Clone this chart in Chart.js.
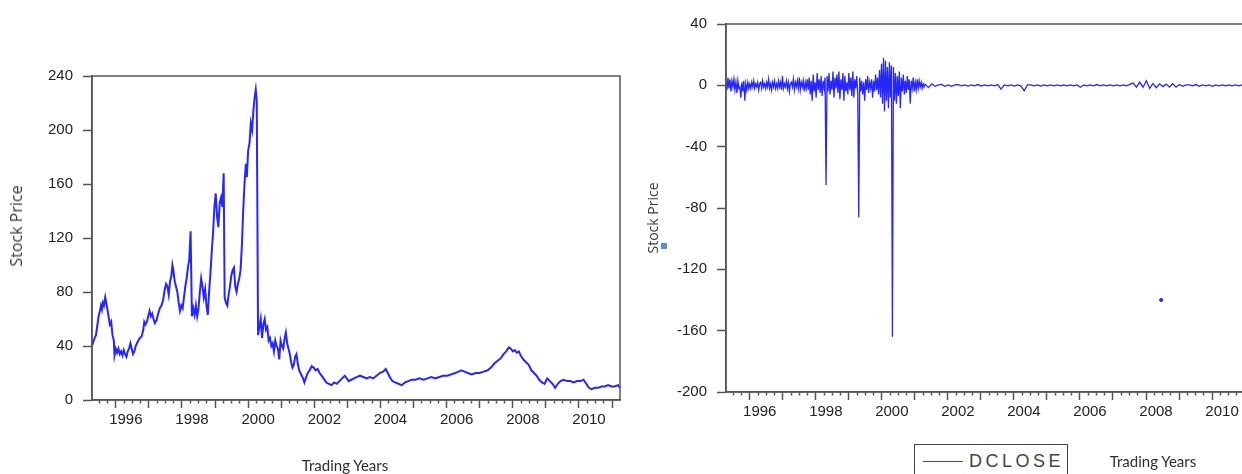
<!DOCTYPE html>
<html>
<head>
<meta charset="utf-8">
<title>Stock price and DCLOSE</title>
<script src="https://cdn.jsdelivr.net/npm/chart.js@4.4.1/dist/chart.umd.min.js"></script>
<style>
  html, body { margin: 0; padding: 0; background: #fff; overflow: hidden; }
  body { width: 1242px; height: 474px; position: relative; }
  canvas { position: absolute; top: 0; }
  #priceChart { left: 0; }
  #dcloseChart { left: 640px; }
  .lbl { position: absolute; white-space: nowrap; color: #3a3a3a; line-height: 1; }
  .rot { transform: translate(-50%, -50%) rotate(-90deg); font-family: "Open Sans", sans-serif; }
  .xt { transform: translate(-50%, -50%); font-family: Lato, "Open Sans", sans-serif; font-size: 15px; color: #2e2e2e; }
  #legendBox { position: absolute; left: 914px; top: 444px; width: 152px; height: 40px; border: 1.5px solid #444; background: #fff; }
  #legendLine { position: absolute; left: 8px; top: 16px; width: 40px; height: 0; border-top: 1.5px solid #3b3bff; }
  #legendText { position: absolute; left: 54px; top: 7px; font-family: "Liberation Sans", Arial, sans-serif; font-size: 18px; letter-spacing: 3.5px; color: #444; line-height: 1; }
  #marker { position: absolute; left: 661px; top: 243px; width: 6px; height: 6px; background: #5a8bd6; }
</style>
</head>
<body>
<canvas id="priceChart" width="640" height="474"></canvas>
<canvas id="dcloseChart" width="640" height="474"></canvas>

<span class="lbl rot" style="left:16px; top:226px; font-size:16px;">Stock Price</span>
<span class="lbl xt" style="left:345px; top:465px;">Trading Years</span>

<span class="lbl rot" style="left:653px; top:218px; font-size:14px;">Stock Price</span>
<div id="marker"></div>
<div id="legendBox"><div id="legendLine"></div><span id="legendText">DCLOSE</span></div>
<span class="lbl xt" style="left:1153px; top:461px;">Trading Years</span>

<script>
// axis range, in years
const xMin = 1995.28;
const xMax = 2011.24;

// left chart: closing price
const priceYears = [
  1995.28, 1995.32, 1995.36, 1995.40, 1995.44, 1995.48, 1995.52, 1995.55, 1995.58, 1995.61,
  1995.64, 1995.68, 1995.71, 1995.74, 1995.78, 1995.82, 1995.86, 1995.90, 1995.94, 1995.96,
  1996.00, 1996.04, 1996.08, 1996.12, 1996.16, 1996.20, 1996.24, 1996.28, 1996.32, 1996.36,
  1996.40, 1996.44, 1996.48, 1996.52, 1996.56, 1996.60, 1996.64, 1996.68, 1996.73, 1996.78,
  1996.83, 1996.86, 1996.90, 1996.94, 1996.98, 1997.02, 1997.06, 1997.10, 1997.14, 1997.18,
  1997.23, 1997.28, 1997.33, 1997.38, 1997.43, 1997.48, 1997.52, 1997.56, 1997.60, 1997.64,
  1997.68, 1997.71, 1997.74, 1997.78, 1997.82, 1997.86, 1997.90, 1997.94, 1997.98, 1998.02,
  1998.06, 1998.10, 1998.14, 1998.18, 1998.22, 1998.26, 1998.30, 1998.34, 1998.38, 1998.42,
  1998.46, 1998.50, 1998.54, 1998.58, 1998.62, 1998.66, 1998.70, 1998.74, 1998.78, 1998.82,
  1998.86, 1998.90, 1998.94, 1998.98, 1999.02, 1999.06, 1999.10, 1999.14, 1999.18, 1999.22,
  1999.26, 1999.29, 1999.33, 1999.37, 1999.41, 1999.45, 1999.49, 1999.53, 1999.57, 1999.61,
  1999.65, 1999.69, 1999.73, 1999.77, 1999.81, 1999.85, 1999.89, 1999.93, 1999.96, 2000.00,
  2000.04, 2000.08, 2000.12, 2000.16, 2000.20, 2000.23, 2000.26, 2000.30, 2000.34, 2000.38,
  2000.42, 2000.46, 2000.50, 2000.54, 2000.58, 2000.62, 2000.66, 2000.70, 2000.74, 2000.78,
  2000.82, 2000.86, 2000.90, 2000.94, 2000.98, 2001.02, 2001.06, 2001.10, 2001.14, 2001.18,
  2001.22, 2001.26, 2001.30, 2001.34, 2001.38, 2001.42, 2001.46, 2001.50, 2001.54, 2001.58,
  2001.62, 2001.66, 2001.70, 2001.74, 2001.80, 2001.86, 2001.92, 2001.98, 2002.04, 2002.10,
  2002.16, 2002.22, 2002.28, 2002.36, 2002.44, 2002.52, 2002.60, 2002.68, 2002.76, 2002.84,
  2002.92, 2002.98, 2003.04, 2003.12, 2003.20, 2003.28, 2003.38, 2003.48, 2003.58, 2003.68,
  2003.78, 2003.88, 2003.98, 2004.08, 2004.16, 2004.22, 2004.28, 2004.36, 2004.44, 2004.54,
  2004.64, 2004.74, 2004.84, 2004.94, 2005.06, 2005.18, 2005.30, 2005.42, 2005.54, 2005.66,
  2005.78, 2005.90, 2006.02, 2006.14, 2006.26, 2006.36, 2006.44, 2006.54, 2006.64, 2006.76,
  2006.88, 2007.00, 2007.12, 2007.24, 2007.34, 2007.44, 2007.54, 2007.64, 2007.72, 2007.80,
  2007.88, 2007.94, 2008.00, 2008.06, 2008.12, 2008.18, 2008.24, 2008.32, 2008.40, 2008.48,
  2008.56, 2008.64, 2008.72, 2008.80, 2008.88, 2008.96, 2009.04, 2009.12, 2009.20, 2009.28,
  2009.36, 2009.44, 2009.54, 2009.64, 2009.74, 2009.84, 2009.94, 2010.04, 2010.14, 2010.22,
  2010.30, 2010.38, 2010.48, 2010.58, 2010.68, 2010.78, 2010.88, 2010.98, 2011.08, 2011.18,
  2011.24
];
const priceValues = [
  40, 43, 46, 48, 55, 62, 66, 70, 67, 72,
  70, 76, 72, 68, 62, 56, 58, 48, 44, 33,
  38, 35, 38, 34, 36, 33, 37, 34, 32, 36,
  38, 42, 38, 34, 36, 40, 42, 44, 46, 47,
  52, 58, 56, 58, 62, 66, 62, 64, 60, 57,
  59, 64, 68, 70, 74, 82, 86, 84, 78, 88,
  92, 100, 96, 88, 84, 80, 72, 66, 70, 68,
  76, 84, 90, 98, 104, 125, 62, 68, 63, 70,
  62, 68, 80, 90, 84, 76, 82, 70, 63, 80,
  94, 110, 124, 143, 153, 136, 128, 146, 150, 143,
  168, 76, 72, 70, 78, 84, 92, 96, 98, 84,
  80, 86, 90, 96, 114, 140, 160, 175, 165, 185,
  190, 205, 200, 215, 225, 230, 222, 48, 54, 60,
  46, 56, 60, 52, 54, 44, 46, 40, 42, 36,
  44, 40, 38, 30, 44, 40, 38, 45, 50, 42,
  38, 34, 28, 24, 26, 32, 34, 27, 22, 20,
  18, 16, 13, 16, 20, 22, 25, 24, 22, 23,
  20, 18, 16, 13, 12, 11, 13, 12, 14, 16,
  18, 16, 14, 15, 16, 17, 18, 17, 16, 17,
  16, 18, 20, 21, 23, 20, 17, 14, 13, 12,
  11, 13, 14, 15, 15, 16, 15, 16, 17, 16,
  17, 18, 18, 19, 20, 21, 22, 21, 20, 19,
  20, 20, 21, 22, 24, 27, 29, 31, 34, 36,
  39, 38, 36, 37, 35, 36, 33, 30, 28, 26,
  22, 20, 18, 15, 13, 12, 16, 14, 12, 9,
  12, 14, 15, 14, 14, 13, 14, 14, 15, 12,
  9, 8, 9, 9, 10, 10, 11, 10, 10, 11,
  9
];

// right chart: daily change DCLOSE, sampled every 0.03 yr up to 2001, then every 0.1 yr
const dcloseStart = 1995.28;
const dcloseStep = 0.03;
const dcloseEarly = [
  2, -3, 5, -2, 4, -4, 3, -1, 4, -3, 2, -5, 3, -2, -1, -8, 2, -4, 3, -10, 1, -3, 2, -2,
  1, -2, 2, -1, 3, -2, 1, -1, 2, -3, 1, 2, -2, 3, -1, 1, -2, 2, -1, 4, -2, 1, -3, 2, -1, 3, -2,
  1, -2, 3, -1, 2, -3, 6, -2, 1, -1, 3, -2, 2, -4, 1, 2, -1, 4, -3, 2, -1, 3, -2, 5, -3, 2, -1, 3, -4, 2, -2, 4, -3,
  5, -6, 3, -10, 7, -4, 2, -8, 8, -3, 4, -5, 6, -7, 3, -2, 5,
  -65,
  6, -4, 8, -6, 3, -3, 9, -8, 5, -2, 7, -5, 9, -9, 4, -3, 8, -10, 6, -4, 2, -6, 8, -3, 5, -7, 9, -8, 4, -2, 6, -5,
  -86,
  5, -4, 3, -6, 2, -10, 4, -3, 6, -5, 2, -2, 4, -8, 3, -4, 7, -3, 5, -6,
  10, -8, 14, -12, 18, -17, 16, -10, 12, -15, 15, -8, 13,
  -164,
  12, -10, 8, -12, 6, -7, 9, -15, 5, -4, 7, -6, 3, -5, 6, -3, 4, -12, 3, -2, 5, -4, 2, -3, 4, -2, 3, -1, 2, -2, 1, -1
];
const dcloseLateStart = 2001.31;
const dcloseLateStep = 0.1;
const dcloseLate = [
  0.8, -1.5, 1, -0.6, 0.3, 0.6, -0.6, 0.3, -0.6, 0.3,
  0.5, -0.3, 0.3, -0.5, 0.3, -0.3, 0.5, -0.5, 0.3, -0.3,
  0.3, -0.3, 0.5, -2.5, 0.3, -0.3, 0.3, -0.5, 0.3, -0.3,
  -3.5, 0.3, 0.3, -0.3, 0.3, -0.5, 0.3, -0.3, 0.3, -0.3,
  0.3, -0.3, 0.3, -0.3, 0.3, -0.3, 0.3, -1.2, 0.3, -0.3,
  0.3, -0.3, 0.5, -0.3, 0.3, -0.3, 0.3, -0.3, 0.3, -0.3,
  0.3, -0.3, 0.6, 1.5, -1.2, 2, -1.2, 3, -2, 1.2,
  -1.5, 1, -0.8, 0.8, -1.2, 1, -1.2, 0.6, -0.6, 0.3,
  0.3, -0.3, 0.5, -0.6, 0.3, -0.3, 0.3, -0.6, 0.3, -0.3,
  0.3, -0.3, 0.3, -0.3, 0.3, -0.3, 0.3, -0.3, 0.3, -0.3
];
// lone stray mark in the empty area
const strayYears = [2008.46];
const strayValues = [-140];

const priceTicks = [0, 240, 40];      // min, max, step
const dcloseTicks = [-200, 40, 40];

const lineBlue = '#2626ff';
const axisGray = '#555';
const tickFont = { family: '"Liberation Sans", Arial, sans-serif', size: 15 };

function isYear(v) { return Math.abs(v - Math.round(v)) < 1e-6; }

const pricePoints = priceYears.map((yr, i) => ({ x: yr, y: priceValues[i] }));
const dclosePoints = dcloseEarly.map((v, i) => ({ x: dcloseStart + i * dcloseStep, y: v }))
  .concat(dcloseLate.map((v, i) => ({ x: dcloseLateStart + i * dcloseLateStep, y: v })));
const strayPoints = strayYears.map((yr, i) => ({ x: yr, y: strayValues[i] }));

// box round the plot area
const framePlugin = {
  id: 'frame',
  afterDraw(chart) {
    const { ctx, chartArea: a } = chart;
    ctx.save();
    ctx.strokeStyle = axisGray;
    ctx.lineWidth = 1.5;
    ctx.strokeRect(a.left, a.top, a.right - a.left, a.bottom - a.top);
    ctx.restore();
  }
};

function yearAxis(offset) {
  return {
    type: 'linear',
    min: xMin,
    max: xMax,
    afterFit: s => { s.height = 30; },
    ticks: {
      stepSize: 0.25,
      maxTicksLimit: 200,
      autoSkip: false,
      includeBounds: false,
      maxRotation: 0,
      labelOffset: offset,
      padding: 3,
      color: '#222',
      font: tickFont,
      callback: v => (isYear(v) && Math.round(v) % 2 === 0) ? String(Math.round(v)) : ''
    },
    grid: {
      drawOnChartArea: false,
      tickLength: 8,
      tickColor: axisGray,
      tickWidth: 1.5,
      tickBorderDash: c => isYear(c.tick.value) ? [] : [3, 30]
    },
    border: { color: axisGray, width: 1.5 }
  };
}

function valueAxis(t, width) {
  return {
    min: t[0],
    max: t[1],
    afterFit: s => { s.width = width; },
    ticks: { stepSize: t[2], padding: 10, color: '#222', font: tickFont },
    grid: { drawOnChartArea: false, tickLength: 9, tickColor: axisGray, tickWidth: 1.5 },
    border: { color: axisGray, width: 1.5 }
  };
}

new Chart(document.getElementById('priceChart'), {
  type: 'line',
  data: {
    datasets: [{
      label: 'CLOSE',
      data: pricePoints,
      borderColor: lineBlue,
      borderWidth: 2,
      pointRadius: 0,
      tension: 0
    }]
  },
  options: {
    responsive: false,
    animation: false,
    devicePixelRatio: 1,
    layout: { padding: { top: 76, right: 20, bottom: 44, left: 0 } },
    plugins: { legend: { display: false }, tooltip: { enabled: false } },
    scales: {
      x: yearAxis(10),
      y: valueAxis(priceTicks, 92)
    }
  },
  plugins: [framePlugin]
});

new Chart(document.getElementById('dcloseChart'), {
  type: 'line',
  data: {
    datasets: [{
      label: 'DCLOSE',
      data: dclosePoints,
      borderColor: lineBlue,
      borderWidth: 1.3,
      pointRadius: 0,
      tension: 0
    }, {
      label: 'stray',
      data: strayPoints,
      showLine: false,
      pointRadius: 1.6,
      pointBackgroundColor: lineBlue,
      pointBorderColor: lineBlue
    }]
  },
  options: {
    responsive: false,
    animation: false,
    devicePixelRatio: 1,
    layout: { padding: { top: 24, right: 27, bottom: 52, left: 0 } },
    plugins: { legend: { display: false }, tooltip: { enabled: false } },
    scales: {
      x: yearAxis(10),
      y: valueAxis(dcloseTicks, 86)
    }
  },
  plugins: [framePlugin]
});
</script>
</body>
</html>
